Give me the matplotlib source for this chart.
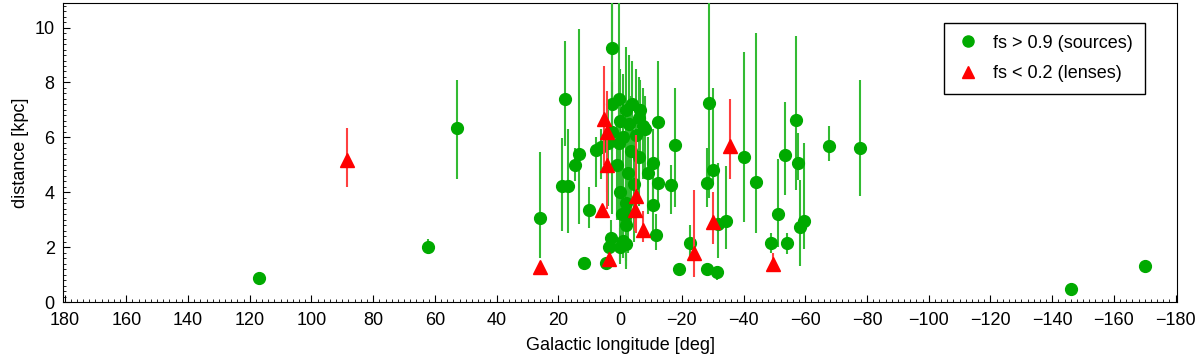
import numpy as np
import matplotlib
matplotlib.use("Agg")
import matplotlib.pyplot as plt
from matplotlib.ticker import MultipleLocator
from matplotlib.lines import Line2D

plt.rcParams['font.family'] = ['Liberation Sans', 'DejaVu Sans']

# sources (fs > 0.9): longitude, distance, lower bound, upper bound
src_lon = [117.1, 62.4, 53.0, 26.1, 18.0, 18.7, 17.0, 14.7, 13.4, 11.8,
           10.2, 7.9, 6.3, 4.7, 3.1, 3.7, 2.6, 0.0, -1.1, -1.8,
           2.5, 0.5, -2.0, -4.0, -6.0, -3.0, 0.0, 2.5, -1.0, -5.0,
           -7.5, -6.6, 0.5, -3.5, -6.0, 1.0, -2.5, -4.5, 0.0, -2.0,
           -0.5, -1.8, -10.5, -8.9, -12.4, -12.4, -10.5, -11.5, -17.7, -16.4,
           -19.0, -22.8, -28.7, -30.0, -28.0, -28.0, -31.5, -31.6, -34.2, -40.3,
           -43.9, -49.0, -51.0, -54.0, -53.3, -56.9, -57.5, -58.2, -59.5, -67.6,
           -77.6, -146.0, -170.0, -1.8, -8.0, 4.0]
src_d = [0.86, 1.99, 6.33, 3.08, 7.4, 4.22, 4.22, 5.0, 5.38, 1.44,
         3.34, 5.53, 5.64, 1.42, 2.35, 1.99, 9.25, 2.0, 2.24, 3.2,
         7.2, 7.4, 7.0, 7.2, 6.7, 6.5, 6.6, 6.2, 6.0, 6.1,
         6.4, 7.0, 5.8, 5.5, 5.3, 5.0, 4.7, 4.3, 4.0, 3.6,
         3.2, 2.8, 5.06, 4.7, 6.56, 4.32, 3.52, 2.46, 5.74, 4.25,
         1.22, 2.14, 7.24, 4.8, 4.32, 1.22, 1.08, 2.86, 2.97, 5.28,
         4.37, 2.14, 3.2, 2.14, 5.34, 6.62, 5.06, 2.73, 2.94, 5.68,
         5.6, 0.46, 1.3, 2.1, 6.3, 5.8]
src_lo = [0.78, 1.75, 4.5, 1.6, 5.7, 2.6, 2.5, 4.4, 2.86, 1.35,
          2.7, 4.2, 4.5, 1.2, 1.8, 1.5, 5.5, 1.4, 1.6, 2.0,
          5.0, 4.5, 4.0, 5.5, 4.5, 3.5, 4.0, 3.2, 2.5, 3.0,
          4.5, 5.5, 3.0, 2.8, 3.5, 3.0, 1.8, 2.2, 1.5, 1.5,
          1.8, 1.3, 3.5, 3.2, 4.0, 3.4, 2.5, 1.9, 3.45, 3.2,
          1.1, 1.5, 3.8, 4.3, 3.45, 1.1, 0.8, 1.62, 1.95, 2.9,
          2.5, 1.8, 2.0, 1.75, 3.9, 4.07, 4.43, 1.33, 1.95, 5.15,
          3.85, 0.4, 1.22, 1.2, 4.5, 3.5]
src_hi = [0.95, 2.3, 8.1, 5.45, 9.5, 5.97, 6.3, 5.6, 9.95, 1.55,
          4.2, 6.0, 6.3, 1.6, 3.0, 2.5, 11.5, 2.7, 3.5, 4.5,
          11.5, 11.5, 9.3, 8.8, 8.2, 9.0, 8.5, 8.0, 8.3, 8.5,
          7.8, 8.1, 7.6, 7.5, 7.0, 6.5, 6.8, 6.2, 6.0, 5.5,
          4.8, 4.2, 6.3, 6.0, 8.8, 5.3, 4.7, 3.2, 7.8, 5.0,
          1.35, 2.8, 11.5, 7.8, 5.63, 1.4, 1.3, 5.05, 4.95, 9.1,
          9.8, 2.5, 5.2, 2.5, 7.3, 9.7, 6.15, 4.43, 5.8, 6.4,
          8.1, 0.52, 1.38, 3.0, 7.5, 7.0]

# lenses (fs < 0.2)
len_lon = [88.6, 25.8, 6.0, 5.3, 4.1, 4.4, 3.7, -5.3, -4.7, -7.3,
           -23.8, -30.2, -35.5, -49.4]
len_d = [5.16, 1.27, 3.37, 6.68, 6.2, 4.98, 1.58, 3.85, 3.37, 2.64,
         1.8, 2.9, 5.7, 1.4]
len_lo = [4.2, 1.15, 3.2, 5.0, 4.0, 3.4, 1.4, 2.5, 2.6, 2.2,
          0.9, 2.1, 4.5, 1.2]
len_hi = [6.35, 1.4, 3.55, 8.6, 7.7, 6.2, 1.75, 6.1, 4.0, 3.3,
          4.07, 4.0, 7.4, 1.8]

legend_labels = ['fs > 0.9 (sources)', 'fs < 0.2 (lenses)']
x_ticks = list(range(180, -181, -20))
GREEN, GREEN_E = '#00aa00', '#33bb33'
RED, RED_E = '#ff0000', '#ff4040'

fig = plt.figure(figsize=(12, 3.6), dpi=100)
ax = fig.add_axes([0.0525, 0.161, 0.9285, 0.831])

sd = np.array(src_d)
ax.errorbar(src_lon, sd, yerr=[sd - np.array(src_lo), np.array(src_hi) - sd],
            fmt='o', color=GREEN, ecolor=GREEN_E, elinewidth=1.5,
            markersize=8.5, capsize=0, zorder=3)
ld = np.array(len_d)
ax.errorbar(len_lon, ld, yerr=[ld - np.array(len_lo), np.array(len_hi) - ld],
            fmt='^', color=RED, ecolor=RED_E, elinewidth=1.5,
            markersize=9.5, capsize=0, zorder=4)

ax.set_xlim(180.5, -180.5)
ax.set_ylim(0, 10.9)
ax.set_xticks(x_ticks)
ax.set_xticklabels([('\u2212%d' % -t) if t < 0 else '%d' % t for t in x_ticks])
ax.xaxis.set_minor_locator(MultipleLocator(2))
ax.set_yticks([0, 2, 4, 6, 8, 10])
ax.yaxis.set_minor_locator(MultipleLocator(0.2))
ax.tick_params(which='both', direction='in', top=False, right=False, labelsize=13)
ax.tick_params(axis='x', which='major', length=5, pad=7)
ax.tick_params(axis='y', which='major', length=5, pad=6)
ax.tick_params(which='minor', length=2.5)
ax.set_xlabel('Galactic longitude [deg]', fontsize=13, labelpad=6)
ax.set_ylabel('distance [kpc]', fontsize=13, labelpad=4)

handles = [Line2D([], [], marker='o', color=GREEN, linestyle='', markersize=8),
           Line2D([], [], marker='^', color=RED, linestyle='', markersize=9)]
leg = ax.legend(handles, legend_labels,
                loc='upper right', bbox_to_anchor=(0.971, 0.933), borderaxespad=0,
                fancybox=False, edgecolor='black', framealpha=1, fontsize=13,
                handlelength=1.4, handletextpad=0.7, borderpad=0.65,
                labelspacing=0.75)
leg.get_frame().set_linewidth(1.0)

fig.savefig('out.png', dpi=100)
